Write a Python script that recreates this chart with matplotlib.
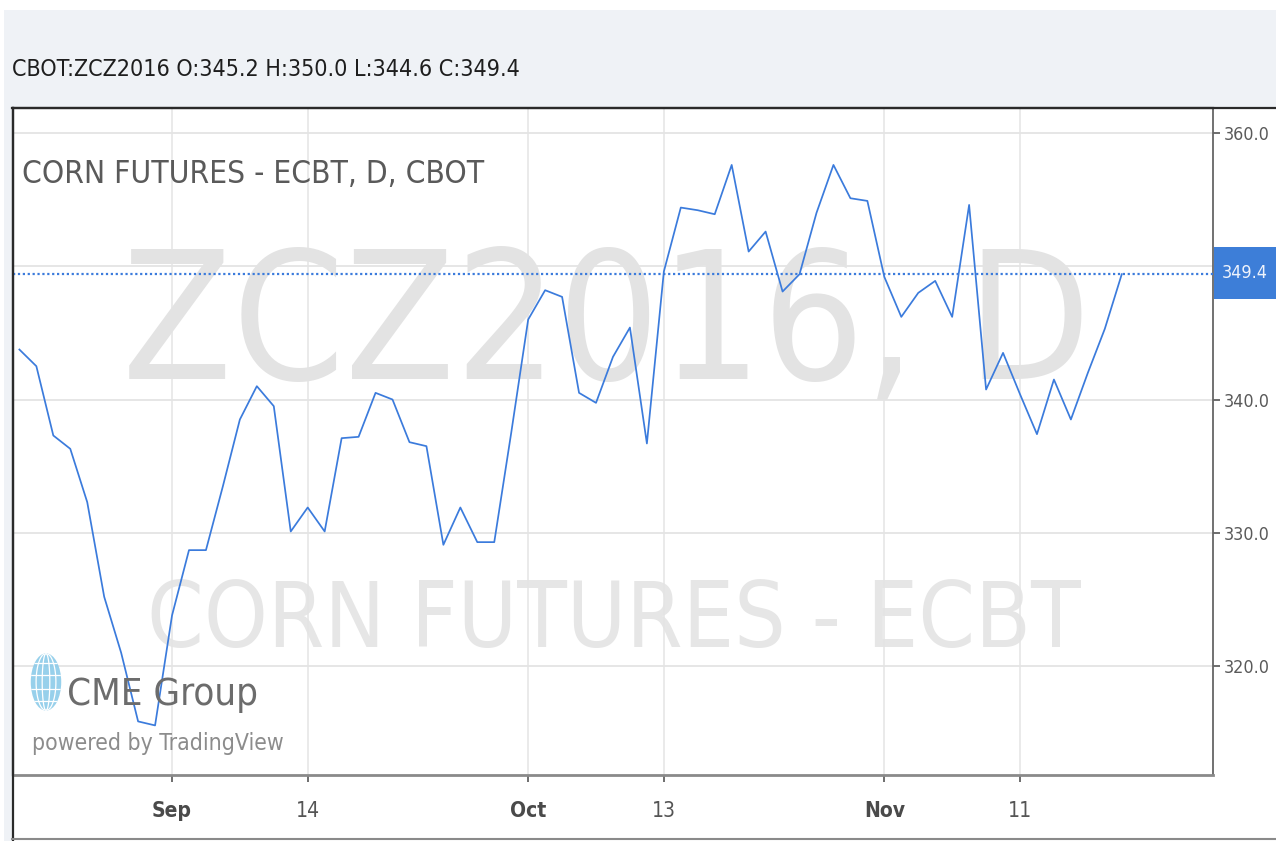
import matplotlib
matplotlib.use('Agg')
import matplotlib.pyplot as plt
from matplotlib import font_manager as fm
from matplotlib.patches import Rectangle, Ellipse
from matplotlib.lines import Line2D
import numpy as np

# ---------------- data ----------------
close = [343.75, 342.5, 337.3, 336.3, 332.3, 325.2, 321.0, 315.85, 315.55, 323.8,
         328.7, 328.7, 333.5, 338.5, 341.0, 339.5, 330.1, 331.9, 330.1, 337.1,
         337.2, 340.5, 340.0, 336.8, 336.5, 329.1, 331.9, 329.3, 329.3, 337.5,
         346.0, 348.2, 347.7, 340.5, 339.75, 343.2, 345.4, 336.7, 349.6, 354.4,
         354.2, 353.9, 357.6, 351.1, 352.6, 348.1, 349.4, 354.0, 357.6, 355.1,
         354.9, 349.2, 346.2, 348.0, 348.9, 346.2, 354.6, 340.75, 343.5, 340.4,
         337.4, 341.5, 338.5, 342.0, 345.3, 349.4]
tick_idx = [9, 17, 30, 38, 51, 59]
tick_labels = ['Sep', '14', 'Oct', '13', 'Nov', '11']
month_labels = ['Sep', 'Oct', 'Nov']
ytick_vals = [320, 330, 340, 360]
ytick_labels = ['320.0', '330.0', '340.0', '360.0']
grid_levels = [320, 330, 340, 350, 360]
last_close = 349.4
header = 'CBOT:ZCZ2016 O:345.2 H:350.0 L:344.6 C:349.4'
title = 'CORN FUTURES - ECBT, D, CBOT'
wm1 = 'ZCZ2016, D'
wm2 = 'CORN FUTURES - ECBT'

# ---------------- fonts ----------------
COND = ('condensed', 'semi-condensed', 'extra-condensed', 'ultra-condensed')
cond_names = [f.name for f in fm.fontManager.ttflist
              if str(f.stretch) in COND or 'Narrow' in f.name or 'Condensed' in f.name]
pref = ['Liberation Sans Narrow', 'DejaVu Sans', 'Roboto Condensed', 'Open Sans Condensed',
        'Noto Sans', 'Open Sans', 'Roboto']
chosen = None
for p in pref:
    if p in cond_names:
        chosen = p
        break
if chosen is None and cond_names:
    chosen = cond_names[0]
if chosen is None:
    FONT = ['DejaVu Sans']
    STRETCH = 'normal'
else:
    FONT = [chosen, 'DejaVu Sans']
    STRETCH = 'condensed'
plt.rcParams['font.family'] = FONT

W, H = 1276, 841
fig = plt.figure(figsize=(W / 100, H / 100), dpi=100, facecolor='white')
renderer = fig.canvas.get_renderer()


def fx(x):
    return x / W


def fy(y):
    return 1 - y / H


def fit(s, target_w, weight='normal'):
    t = fig.text(0, 0, s, fontsize=20, weight=weight, fontstretch=STRETCH)
    w = t.get_window_extent(renderer).width
    t.remove()
    return 20 * target_w / w


BLUE = '#3b7bdc'

# background panels
fig.add_artist(Rectangle((fx(4), fy(108)), (W - 4) / W, 98 / H, transform=fig.transFigure,
                         facecolor='#eff2f6', edgecolor='none', zorder=0))
fig.add_artist(Rectangle((fx(4), 0), 8 / W, fy(108), transform=fig.transFigure,
                         facecolor='#eff2f6', edgecolor='none', zorder=0))

# ---------------- axes ----------------
L, R, T, B = 13, 1213, 108, 775
ax = fig.add_axes([fx(L), fy(B), (R - L) / W, (B - T) / H])
ax.set_facecolor('white')
ax.set_xlim(-0.377, 70.38)
ax.set_ylim(311.83, 361.87)

for v in grid_levels:
    ax.axhline(v, color='#e4e4e4', lw=1.3, zorder=1)
for i in tick_idx:
    ax.axvline(i, color='#e4e4e4', lw=1.1, zorder=1)

# watermarks
ax.text(fx(606), fy(330), wm1, transform=fig.transFigure, ha='center', va='center',
        fontsize=fit(wm1, 968), color='#e3e3e3', fontstretch=STRETCH, zorder=0.5)
ax.text(fx(614), fy(622), wm2, transform=fig.transFigure, ha='center', va='center',
        fontsize=fit(wm2, 932), color='#e6e6e6', fontstretch=STRETCH, zorder=0.5)

ax.axhline(last_close, color=BLUE, lw=1.6, ls=(0, (1, 1.2)), zorder=3)
ax.plot(range(len(close)), close, color=BLUE, lw=1.25, zorder=4)

for side in ['top', 'left']:
    ax.spines[side].set_color('#2a2a2a')
    ax.spines[side].set_linewidth(1.6)
ax.spines['right'].set_color('#666666')
ax.spines['right'].set_linewidth(1.3)
ax.spines['bottom'].set_color('#8a8a8a')
ax.spines['bottom'].set_linewidth(2.0)

ax.yaxis.tick_right()
ysz = fit('360.0', 46)
ax.set_yticks(ytick_vals, ytick_labels)
ax.tick_params(axis='y', length=5, width=1.2, color='#555555', pad=3,
               labelsize=ysz, labelcolor='#5a5a5a')
xsz = fit('Sep', 40, weight='bold')
ax.set_xticks(tick_idx, tick_labels)
ax.tick_params(axis='x', length=5, width=1.2, color='#555555', pad=14,
               labelsize=xsz, labelcolor='#555555')
for lab in ax.get_xticklabels():
    lab.set_fontstretch(STRETCH)
    if lab.get_text() in month_labels:
        lab.set_fontweight('bold')
        lab.set_color('#4a4a4a')
for lab in ax.get_yticklabels():
    lab.set_fontstretch(STRETCH)

# extra frame lines
fig.add_artist(Line2D([fx(12), 1], [fy(108), fy(108)], transform=fig.transFigure,
                      color='#2a2a2a', lw=1.6))
fig.add_artist(Line2D([fx(12.5), fx(12.5)], [fy(108), 0], transform=fig.transFigure,
                      color='#2a2a2a', lw=1.6))
fig.add_artist(Line2D([fx(12), 1], [fy(839), fy(839)], transform=fig.transFigure,
                      color='#8a8a8a', lw=1.5))

# last price label
fig.add_artist(Rectangle((fx(1214), fy(299)), 62 / W, 52 / H, transform=fig.transFigure,
                         facecolor='#3d7ed8', edgecolor='none', zorder=5))
fig.text(fx(1222), fy(273), f'{last_close:.1f}', ha='left', va='center', color='#eef3fc',
         fontsize=fit('349.4', 46), fontstretch=STRETCH, zorder=6)

# header and title
fig.text(fx(12), fy(76), header, ha='left', va='baseline', color='#1e1e1e',
         fontsize=fit(header, 508), fontstretch=STRETCH)
ax.text(fx(22), fy(183), title, transform=fig.transFigure, ha='left', va='baseline',
        color='#5a5a5a', fontsize=fit(title, 461), fontstretch=STRETCH, zorder=5)

# CME Group logo
gax = fig.add_axes([fx(30), fy(712), 32 / W, 60 / H])
gax.set_xlim(-1.05, 1.05)
gax.set_ylim(-1.05, 1.05)
gax.axis('off')
gax.patch.set_alpha(0)
globe = Ellipse((0, 0), 2, 2, facecolor='#8ccbe9', edgecolor='none', alpha=0.9)
gax.add_patch(globe)
yy = np.linspace(-1, 1, 60)
for k in [-0.65, -0.25, 0.25, 0.65]:
    ln, = gax.plot(k * np.sqrt(1 - yy ** 2), yy, color='white', lw=0.9)
    ln.set_clip_path(globe)
    hl, = gax.plot([-1, 1], [k, k], color='white', lw=0.9)
    hl.set_clip_path(globe)

ax.text(fx(67), fy(705), 'CME Group', transform=fig.transFigure, ha='left', va='baseline',
        color='#6c6c6c', fontsize=fit('CME Group', 191), fontstretch=STRETCH, zorder=5)
ax.text(fx(32), fy(750), 'powered by TradingView', transform=fig.transFigure, ha='left',
        va='baseline', color='#8c8c8c', fontsize=fit('powered by TradingView', 251),
        fontstretch=STRETCH, zorder=5)

fig.savefig('out.png', dpi=100, facecolor='white')
